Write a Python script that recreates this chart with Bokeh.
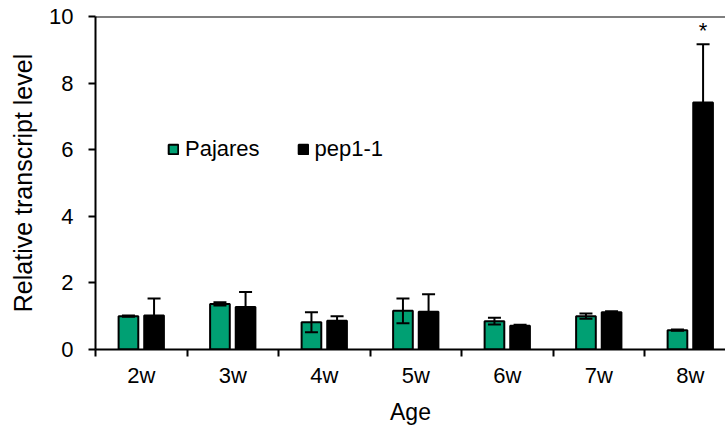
from bokeh.plotting import figure
from bokeh.models import (ColumnDataSource, Range1d, FixedTicker, Whisker, TeeHead,
                          Legend, LegendItem, Span)
from bokeh.core.properties import value
from bokeh.embed import file_html
from bokeh.resources import INLINE

ages = ["2w", "3w", "4w", "5w", "6w", "7w", "8w"]
pajares_mean = [1.00, 1.37, 0.82, 1.16, 0.85, 1.00, 0.58]
pajares_err = [0.02, 0.05, 0.30, 0.37, 0.10, 0.08, 0.02]
pep_mean = [1.02, 1.28, 0.86, 1.13, 0.71, 1.12, 7.42]
pep_err = [0.51, 0.45, 0.14, 0.53, 0.03, 0.03, 1.75]
signif = ["", "", "", "", "", "", "*"]

FONT = "Liberation Sans"
GREEN = "#00A073"

centers = [i + 0.5 for i in range(len(ages))]
off = 0.14
bw = 0.215

src_a = ColumnDataSource(dict(
    x=[c - off for c in centers], top=pajares_mean,
    upper=[m + e for m, e in zip(pajares_mean, pajares_err)],
    lower=[m - e for m, e in zip(pajares_mean, pajares_err)]))
src_b = ColumnDataSource(dict(
    x=[c + off for c in centers], top=pep_mean,
    upper=[m + e for m, e in zip(pep_mean, pep_err)],
    lower=[m - e for m, e in zip(pep_mean, pep_err)]))

p = figure(width=725, height=427, output_backend="svg", toolbar_location=None,
           x_range=Range1d(0, 6.885), y_range=Range1d(0, 10),
           min_border_left=95, min_border_right=0, min_border_top=16,
           min_border_bottom=77)
p.outline_line_color = None
p.grid.grid_line_color = None
p.background_fill_color = "white"
p.border_fill_color = "white"

r1 = p.vbar(x="x", top="top", width=bw, bottom=0, source=src_a,
            fill_color=GREEN, line_color="black", line_width=2)
r2 = p.vbar(x="x", top="top", width=bw, bottom=0, source=src_b,
            fill_color="black", line_color="black", line_width=2)

for src in (src_a, src_b):
    w = Whisker(base="x", upper="upper", lower="lower", source=src, level="overlay",
                line_color="black", line_width=2,
                upper_head=TeeHead(size=13, line_color="black", line_width=2),
                lower_head=TeeHead(size=13, line_color="black", line_width=2))
    p.add_layout(w)

# significance marker
star_src = ColumnDataSource(dict(
    x=[c + off for c in centers],
    y=[u + 0.4 for u in src_b.data["upper"]],
    t=signif))
p.text(x="x", y="y", text="t", source=star_src, text_font=value(FONT),
       text_font_size="22px", text_align="center", text_baseline="alphabetic",
       text_color="black")

p.add_layout(Span(location=10, dimension="width", line_color="black", line_width=2))

# axes
xa = p.xaxis[0]
xa.ticker = FixedTicker(ticks=centers, minor_ticks=list(range(len(ages) + 1)))
xa.major_label_overrides = {c: a for c, a in zip(centers, ages)}
xa.major_tick_out = 0
xa.major_tick_in = 0
xa.minor_tick_out = 7
xa.minor_tick_in = 0
xa.minor_tick_line_color = "black"
xa.minor_tick_line_width = 2
xa.axis_line_color = "black"
xa.axis_line_width = 2
xa.major_label_standoff = 6
xa.major_label_text_font = FONT
xa.major_label_text_font_size = "22px"
xa.major_label_text_color = "black"
xa.axis_label = "Age"
xa.axis_label_text_font = FONT
xa.axis_label_text_font_size = "23px"
xa.axis_label_text_font_style = "normal"
xa.axis_label_text_color = "black"
xa.axis_label_standoff = 8

ya = p.yaxis[0]
ya.ticker = FixedTicker(ticks=[0, 2, 4, 6, 8, 10])
ya.minor_tick_line_color = None
ya.major_tick_out = 7
ya.major_tick_in = 0
ya.major_tick_line_width = 2
ya.major_tick_line_color = "black"
ya.axis_line_color = "black"
ya.axis_line_width = 2
ya.major_label_standoff = 15
ya.major_label_text_font = FONT
ya.major_label_text_font_size = "22px"
ya.major_label_text_color = "black"
ya.axis_label = "Relative transcript level"
ya.axis_label_text_font = FONT
ya.axis_label_text_font_size = "25px"
ya.axis_label_text_font_style = "normal"
ya.axis_label_text_color = "black"
ya.axis_label_standoff = 9

legend = Legend(items=[LegendItem(label="Pajares", renderers=[r1]),
                       LegendItem(label="pep1-1", renderers=[r2])],
                orientation="horizontal", location=(72, 187),
                glyph_width=12, glyph_height=12, label_standoff=6, spacing=37,
                padding=0, margin=0, label_text_font=FONT,
                label_text_font_size="22px", label_text_color="black",
                background_fill_alpha=0, border_line_alpha=0)
p.add_layout(legend)

open("out.html", "w").write(file_html(p, INLINE))
